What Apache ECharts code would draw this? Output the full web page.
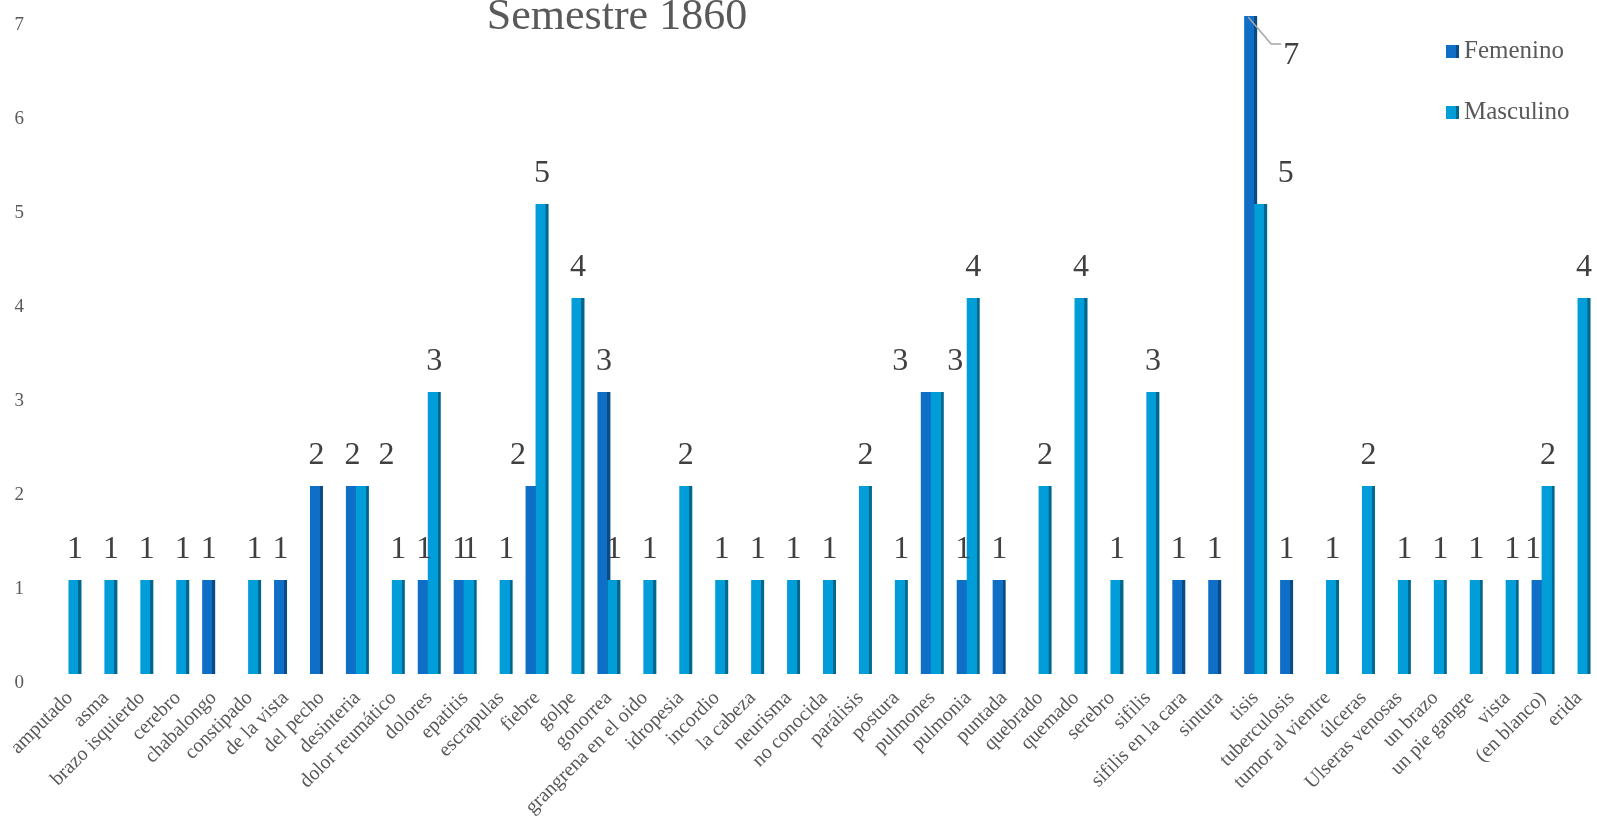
<!DOCTYPE html>
<html><head><meta charset="utf-8">
<script src="https://cdn.jsdelivr.net/npm/echarts@6/dist/echarts.min.js"></script>
<style>html,body{margin:0;padding:0;background:#fff;}#c{width:1597px;height:820px;}</style>
</head><body><div id="c"></div>
<script>
const categories = ["amputado","asma","brazo isquierdo","cerebro","chabalongo","constipado","de la vista","del pecho","desinteria","dolor reumático","dolores","epatitis","escrapulas","fiebre","golpe","gonorrea","grangrena en el oido","idropesia","incordio","la cabeza","neurisma","no conocida","parálisis","postura","pulmones","pulmonia","puntada","quebrado","quemado","serebro","sifilis","sifilis en la cara","sintura","tisis","tuberculosis","tumor al vientre","úlceras","Ulseras venosas","un brazo","un pie gangre","vista","(en blanco)","erida"];
const femenino = [null,null,null,null,1,null,1,2,2,null,1,1,null,2,null,3,null,null,null,null,null,null,null,null,3,1,1,null,null,null,null,1,1,7,1,null,null,null,null,null,null,1,null];
const masculino = [1,1,1,1,null,1,null,null,2,1,3,1,1,5,4,1,1,2,1,1,1,1,2,1,3,4,null,2,4,1,3,null,null,5,null,1,2,1,1,1,1,2,4];
const yTicks = [0,1,2,3,4,5,6,7];
const seriesNames = ["Femenino","Masculino"];
const titleText = "Semestre 1860";

// label nudges (styling, not data)
const labelShift = {
  "0-13": -14, "0-24": -27, "1-24": 18, "1-8": 24, "1-33": 25, "0-41": -5
};
const calloutIndex = 33; // Femenino "tisis" label moved out with a leader line

const font = "'Liberation Serif', 'DejaVu Serif', serif";
function bar3d(front, side) {
  return new echarts.graphic.LinearGradient(0, 0, 1, 0, [
    {offset: 0, color: front}, {offset: 0.76, color: front},
    {offset: 0.77, color: side}, {offset: 1, color: side}
  ]);
}
const colors = [["#0F6FC6","#0A4A85"],["#009DD9","#00688F"]];

const chart = echarts.init(document.getElementById('c'));
chart.setOption({
  animation: false,
  title: {text: titleText, left: 612, textAlign: 'center', top: -10,
    textStyle: {fontFamily: font, fontSize: 44, fontWeight: 'normal', color: '#595959'}},
  legend: {orient: 'vertical', left: 1446, top: 39, padding: 0, itemGap: 36, itemWidth: 13, itemHeight: 13,
    icon: 'rect', data: seriesNames,
    textStyle: {fontFamily: font, fontSize: 25, color: '#595959'}},
  grid: {left: 52, right: 0, top: 16, bottom: 145, containLabel: false},
  xAxis: {type: 'category', data: categories,
    axisLine: {show: false}, axisTick: {show: false},
    axisLabel: {interval: 0, rotate: 45, margin: 21, fontFamily: font, fontSize: 20, color: '#595959'}},
  yAxis: {type: 'value', min: yTicks[0], max: yTicks[yTicks.length-1], interval: 1,
    splitLine: {show: false}, axisLine: {show: false}, axisTick: {show: false},
    axisLabel: {margin: 28, fontFamily: font, fontSize: 19, color: '#595959', verticalAlign: 'top'}},
  series: seriesNames.map((name, si) => ({
    name, type: 'bar', barWidth: 13, barGap: '-23%',
    data: si === 0 ? femenino : masculino,
    itemStyle: {color: bar3d(colors[si][0], colors[si][1])},
    label: {show: true, position: 'top', distance: 14, fontFamily: font, fontSize: 32, color: '#404040'},
    labelLayout: function (p) {
      if (si === 0 && p.dataIndex === calloutIndex) {
        const r = p.rect;
        return {x: r.x + 47, y: r.y + 40, align: 'center', verticalAlign: 'middle'};
      }
      const k = si + '-' + p.dataIndex;
      if (labelShift[k] !== undefined) return {dx: labelShift[k]};
      return {};
    }
  })),
  color: [colors[0][0], colors[1][0]]
});

// leader line for the moved label, anchored to the bar via the chart's own scale
const tipPt = chart.convertToPixel({seriesIndex: 0}, [calloutIndex, femenino[calloutIndex]]);
const barLeft = tipPt[0] - 11.5; // left edge of Femenino bar in its slot
chart.setOption({
  graphic: [{
    type: 'polyline', silent: true, z: 10,
    shape: {points: [[barLeft + 4, tipPt[1] + 1], [barLeft + 27, tipPt[1] + 28], [barLeft + 37, tipPt[1] + 28]]},
    style: {stroke: '#A6A6A6', lineWidth: 1.5, fill: null}
  }]
});
</script></body></html>
